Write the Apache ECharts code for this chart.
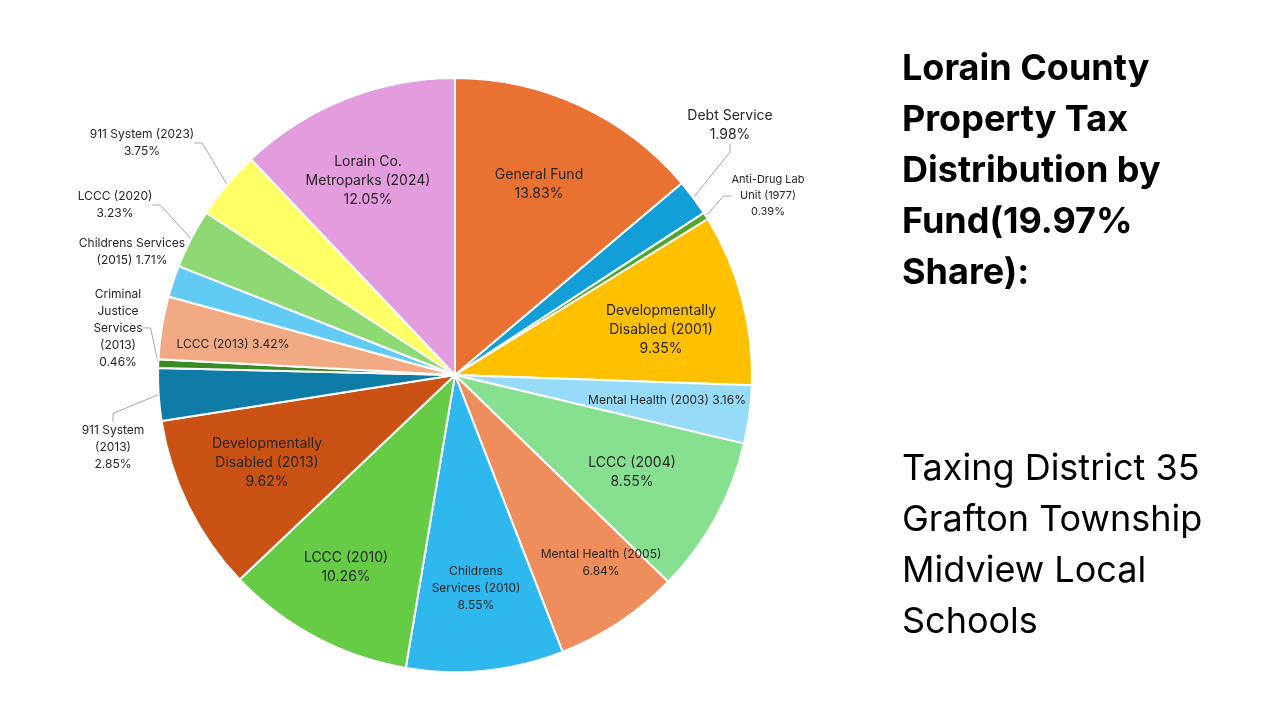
<!DOCTYPE html>
<html>
<head>
<meta charset="utf-8">
<title>Lorain County Property Tax Distribution by Fund</title>
<script src="https://cdn.jsdelivr.net/npm/echarts@6/dist/echarts.min.js"></script>
<style>
  html, body { margin: 0; padding: 0; background: #ffffff; }
  #tax-pie { width: 1280px; height: 720px; }
</style>
</head>
<body>
<div id="tax-pie"></div>
<script>
// Fund names and their share (percent), clockwise from 12 o'clock
var funds = [
    'General Fund',
    'Debt Service',
    'Anti-Drug Lab Unit (1977)',
    'Developmentally Disabled (2001)',
    'Mental Health (2003)',
    'LCCC (2004)',
    'Mental Health (2005)',
    'Childrens Services (2010)',
    'LCCC (2010)',
    'Developmentally Disabled (2013)',
    '911 System (2013)',
    'Criminal Justice Services (2013)',
    'LCCC (2013)',
    'Childrens Services (2015)',
    'LCCC (2020)',
    '911 System (2023)',
    'Lorain Co. Metroparks (2024)'
];
var shares = [13.83, 1.98, 0.39, 9.35, 3.16, 8.55, 6.84, 8.55, 10.26, 9.62, 2.85, 0.46, 3.42, 1.71, 3.23, 3.75, 12.05];

// How each label is broken into lines, {v} is the percent
var labelText = [
    'General Fund\n{v}',
    'Debt Service\n{v}',
    'Anti-Drug Lab\nUnit (1977)\n{v}',
    'Developmentally\nDisabled (2001)\n{v}',
    'Mental Health (2003) {v}',
    'LCCC (2004)\n{v}',
    'Mental Health (2005)\n{v}',
    'Childrens\nServices (2010)\n{v}',
    'LCCC (2010)\n{v}',
    'Developmentally\nDisabled (2013)\n{v}',
    '911 System\n(2013)\n{v}',
    'Criminal\nJustice\nServices\n(2013)\n{v}',
    'LCCC (2013) {v}',
    'Childrens Services\n(2015) {v}',
    'LCCC (2020)\n{v}',
    '911 System (2023)\n{v}',
    'Lorain Co.\nMetroparks (2024)\n{v}'
];

var colors = [
    '#E97132', '#129ED6', '#4EA72E', '#FFC000', '#97DBF8', '#86E090',
    '#EE8E5D', '#2EB8EE', '#66CC45', '#C95214', '#0F7CA8', '#3A8A25',
    '#F2AA84', '#61CBF4', '#8ED973', '#FFFF66', '#E39CDD'
];

// slices whose label sits outside with a leader line
var outsideIdx = [1, 2, 10, 11, 13, 14, 15];

// label centres (px) and font sizes
var labelSpots = [
    [539, 184], [730, 125], [768, 196], [661, 330], [667, 400], [632, 472],
    [601, 563], [476, 588], [346, 567], [267, 463], [113, 447], [118, 328],
    [233, 344], [132, 252], [115, 205], [142, 143], [368, 181]
];
var labelSizes = [14, 14, 11, 14, 12, 14, 12, 12, 14, 14, 12, 12, 12, 12, 12, 12, 14];

var myChart = echarts.init(document.getElementById('tax-pie'));

var pieData = funds.map(function (name, i) {
    var outside = outsideIdx.indexOf(i) >= 0;
    return {
        name: name,
        value: shares[i],
        itemStyle: { color: colors[i] },
        label: {
            position: outside ? 'outside' : 'inside',
            fontSize: labelSizes[i],
            lineHeight: labelSizes[i] + 5
        },
        labelLine: { show: outside }
    };
});

var option = {
    backgroundColor: '#ffffff',
    animation: false,
    title: [
        {
            text: 'Lorain County\nProperty Tax\nDistribution by\nFund(19.97%\nShare):',
            left: 897,
            top: 39,
            textStyle: {
                fontFamily: 'Inter',
                fontSize: 36,
                fontWeight: 'bold',
                lineHeight: 51,
                color: '#000000'
            }
        },
        {
            text: 'Taxing District 35\nGrafton Township\nMidview Local\nSchools',
            left: 897,
            top: 439,
            textStyle: {
                fontFamily: 'Inter',
                fontSize: 36,
                fontWeight: 'normal',
                lineHeight: 51,
                color: '#000000'
            }
        }
    ],
    series: [
        {
            name: 'Fund',
            type: 'pie',
            center: [455, 375],
            radius: 297,
            startAngle: 90,
            clockwise: true,
            avoidLabelOverlap: false,
            itemStyle: { borderColor: '#ffffff', borderWidth: 2 },
            label: {
                fontFamily: 'Inter',
                color: '#262626',
                formatter: function (p) {
                    return labelText[p.dataIndex].replace('{v}', p.value.toFixed(2) + '%');
                }
            },
            labelLine: {
                length: 10,
                length2: 8,
                lineStyle: { color: '#A6A6A6', width: 1 }
            },
            labelLayout: function (params) {
                var spot = labelSpots[params.dataIndex];
                return {
                    x: spot[0],
                    y: spot[1],
                    align: 'center',
                    verticalAlign: 'middle'
                };
            },
            data: pieData
        }
    ]
};

myChart.setOption(option);
</script>
</body>
</html>
